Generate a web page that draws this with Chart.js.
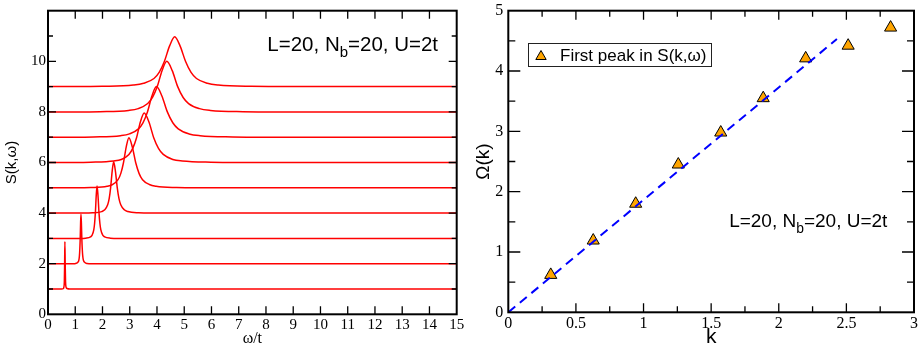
<!DOCTYPE html>
<html>
<head>
<meta charset="utf-8">
<title>S(k,w) spectra and first peak</title>
<script src="https://cdn.jsdelivr.net/npm/chart.js@4.4.1/dist/chart.umd.min.js"></script>
<style>
  body { margin: 0; background: #fff; }
  #wrap { position: relative; width: 922px; height: 345px; overflow: hidden; }
  canvas { position: absolute; top: 0; }
</style>
</head>
<body>
<div id="wrap">
  <canvas id="left" width="470" height="345" style="left:0px"></canvas>
  <canvas id="right" width="460" height="345" style="left:462px"></canvas>
</div>
<script>
// ---------- left panel: S(k,w) for each k, shifted up by 1 each ----------
// pairs of [w/t, S]
var curve1 = [[0,1],[0.5,1],[0.57,1.02],[0.58,1.06],[0.6,1.3],[0.61,1.94],[0.62,2.87],[0.632,1.94],[0.644,1.3],[0.668,1.06],[0.7,1.02],[0.8,1],[15,1]];
var curve2 = [[0,2],[1,2],[1.014,2.01],[1.098,2.06],[1.154,2.32],[1.182,2.98],[1.196,3.59],[1.21,3.95],[1.226,3.59],[1.242,2.98],[1.274,2.32],[1.338,2.06],[1.434,2.01],[1.6,2],[15,2]];
var curve3 = [[0,3],[1.2,3],[1.38,3.01],[1.56,3.06],[1.62,3.13],[1.68,3.34],[1.71,3.59],[1.74,4.04],[1.77,4.69],[1.8,5.07],[1.835,4.69],[1.87,4.04],[1.905,3.59],[1.94,3.34],[2.01,3.13],[2.08,3.06],[2.29,3.01],[2.6,3],[15,3]];
var curve4 = [[0,4],[1.3,4],[1.64,4.01],[1.97,4.06],[2.08,4.13],[2.19,4.33],[2.245,4.57],[2.3,5.02],[2.355,5.65],[2.41,6.03],[2.475,5.65],[2.54,5.02],[2.605,4.57],[2.67,4.33],[2.8,4.13],[2.93,4.06],[3.32,4.01],[3.8,4],[15,4]];
var curve5 = [[0,5],[1,5],[1.57,5.01],[2.17,5.06],[2.37,5.13],[2.57,5.32],[2.67,5.56],[2.77,5.99],[2.87,6.61],[2.97,6.98],[3.095,6.61],[3.22,5.99],[3.345,5.56],[3.47,5.32],[3.72,5.13],[3.97,5.06],[4.72,5.01],[5.5,5],[15,5]];
var curve6 = [[0,6],[1,6],[1.57,6.01],[2.41,6.06],[2.69,6.12],[2.97,6.32],[3.11,6.56],[3.25,6.98],[3.39,7.6],[3.53,7.96],[3.705,7.6],[3.88,6.98],[4.055,6.56],[4.23,6.32],[4.58,6.12],[4.93,6.06],[5.98,6.01],[7,6],[15,6]];
var curve7 = [[0,7],[1,7],[1.67,7.01],[2.66,7.06],[2.99,7.13],[3.32,7.33],[3.485,7.57],[3.65,8],[3.815,8.63],[3.98,9],[4.18,8.63],[4.38,8],[4.58,7.57],[4.78,7.33],[5.18,7.13],[5.58,7.06],[6.78,7.01],[8,7],[15,7]];
var curve8 = [[0,8],[1,8],[1.91,8.01],[2.96,8.06],[3.31,8.13],[3.66,8.33],[3.835,8.57],[4.01,9],[4.185,9.63],[4.36,10],[4.56,9.63],[4.76,9],[4.96,8.57],[5.16,8.33],[5.56,8.13],[5.96,8.06],[7.16,8.01],[8.5,8],[15,8]];
var curve9 = [[0,9],[1,9],[1.99,9.01],[3.13,9.06],[3.51,9.13],[3.89,9.32],[4.08,9.56],[4.27,9.99],[4.46,10.6],[4.65,10.97],[4.85,10.6],[5.05,9.99],[5.25,9.56],[5.45,9.32],[5.85,9.13],[6.25,9.06],[7.45,9.01],[9,9],[15,9]];
var leftCurves = [curve1, curve2, curve3, curve4, curve5, curve6, curve7, curve8, curve9];

// ---------- right panel: position of the first peak vs k ----------
var kValues = [0.314, 0.628, 0.942, 1.257, 1.571, 1.885, 2.199, 2.513, 2.827];
var peakValues = [0.62, 1.19, 1.8, 2.45, 2.98, 3.55, 4.21, 4.42, 4.72];
var fitK = [0, 2.43];
var fitOmega = [0, 4.53];

var serif = '"Liberation Serif", "Times New Roman", serif';
var sans = '"Liberation Sans", Arial, sans-serif';

// draws the frame, inward ticks, the parameter note and (right panel) the legend box
var decor = {
  id: 'decor',
  afterDatasetsDraw: function(chart, args, opts) {
    var ctx = chart.ctx, a = chart.chartArea;
    var xs = chart.scales.x, ys = chart.scales.y;
    ctx.save();
    ctx.strokeStyle = '#000';
    ctx.lineWidth = 1.3;
    ctx.beginPath();
    opts.ticks.forEach(function(t) {
      var s = t.axis === 'x' ? xs : ys;
      var n = Math.round((s.max - s.min) / t.step);
      for (var i = 1; i < n; i++) {
        var p = s.getPixelForValue(s.min + i * t.step);
        if (t.axis === 'x') {
          ctx.moveTo(p, a.bottom); ctx.lineTo(p, a.bottom - t.len);
          ctx.moveTo(p, a.top); ctx.lineTo(p, a.top + t.len);
        } else {
          ctx.moveTo(a.left, p); ctx.lineTo(a.left + t.len, p);
          ctx.moveTo(a.right, p); ctx.lineTo(a.right - t.len, p);
        }
      }
    });
    ctx.stroke();
    ctx.lineWidth = 2;
    ctx.strokeRect(a.left, a.top, a.right - a.left, a.bottom - a.top);

    // "L=20, N_b=20, U=2t"
    var size = opts.note.size;
    var x = xs.getPixelForValue(opts.note.x), y = ys.getPixelForValue(opts.note.y);
    ctx.fillStyle = '#000';
    ctx.textAlign = 'left';
    ctx.textBaseline = 'alphabetic';
    ctx.font = size + 'px ' + sans;
    ctx.fillText('L=20, N', x, y);
    x += ctx.measureText('L=20, N').width;
    ctx.font = (size * 0.73) + 'px ' + sans;
    ctx.fillText('b', x, y + size * 0.33);
    x += ctx.measureText('b').width;
    ctx.font = size + 'px ' + sans;
    ctx.fillText('=20, U=2t', x, y);

    if (opts.legend) {
      var lx = Math.round(xs.getPixelForValue(opts.legend.x));
      var ly = Math.round(ys.getPixelForValue(opts.legend.y));
      var label = chart.data.datasets[1].label;
      ctx.font = '17px ' + sans;
      var w = Math.round(31.7 + ctx.measureText(label).width + 5.3);
      ctx.lineWidth = 1;
      ctx.strokeStyle = '#222';
      ctx.strokeRect(lx + 0.5, ly + 0.5, w, 23);
      // small triangle marker
      var r = 6, cx = lx + 13, cy = ly + 13.5;
      ctx.beginPath();
      ctx.moveTo(cx, cy - r);
      ctx.lineTo(cx + 0.866 * r, cy + r / 2);
      ctx.lineTo(cx - 0.866 * r, cy + r / 2);
      ctx.closePath();
      ctx.fillStyle = '#ffa500';
      ctx.fill();
      ctx.strokeStyle = '#000';
      ctx.stroke();
      ctx.fillStyle = '#000';
      ctx.fillText(label, lx + 32, ly + 18);
    }
    ctx.restore();
  }
};

// helpers to pin the plot area where the reference has it
function fixHeight(h) {
  return function(s) { s.height = h; s.paddingLeft = 0; s.paddingRight = 0; };
}
function fixWidth(w) {
  return function(s) { s.width = w; s.paddingTop = 0; s.paddingBottom = 0; };
}

// left chart
var leftSets = leftCurves.map(function(c) {
  return {
    data: c.map(function(p) { return {x: p[0], y: p[1]}; }),
    borderColor: '#ff0000',
    borderWidth: 1.5,
    pointRadius: 0,
    cubicInterpolationMode: 'monotone',
    fill: false
  };
});

new Chart(document.getElementById('left'), {
  type: 'line',
  data: { datasets: leftSets },
  options: {
    responsive: false,
    animation: false,
    events: [],
    layout: { padding: { top: 10.7, right: 13.3, bottom: 0, left: 0 } },
    plugins: {
      legend: { display: false },
      tooltip: { enabled: false },
      decor: {
        ticks: [
          {axis: 'x', step: 1, len: 8},
          {axis: 'y', step: 1, len: 5},
          {axis: 'y', step: 2, len: 8}
        ],
        note: { x: 8.05, y: 10.42, size: 20.5 }
      }
    },
    scales: {
      x: {
        type: 'linear', min: 0, max: 15,
        grid: { display: false, drawTicks: false },
        border: { display: false },
        ticks: { stepSize: 1, padding: 2, color: '#000', font: { family: serif, size: 15 } },
        title: { display: true, text: 'ω/t', color: '#000', font: { family: serif, size: 16, lineHeight: 0.75 }, padding: { top: 0, bottom: 0 } },
        afterFit: fixHeight(30.7)
      },
      y: {
        type: 'linear', min: 0, max: 12,
        grid: { display: false, drawTicks: false },
        border: { display: false },
        ticks: {
          stepSize: 2, padding: 2, color: '#000', font: { family: serif, size: 15 },
          callback: function(v) { return v === 12 ? '' : v; }
        },
        title: { display: true, text: 'S(k,ω)', color: '#000', font: { family: sans, size: 15 }, padding: { top: 2.5, bottom: 0 } },
        afterFit: fixWidth(48)
      }
    }
  },
  plugins: [decor]
});

// right chart
new Chart(document.getElementById('right'), {
  type: 'scatter',
  data: {
    datasets: [
      {
        label: 'fit',
        type: 'line',
        order: 0,
        data: fitK.map(function(k, i) { return {x: k, y: fitOmega[i]}; }),
        borderColor: '#0000ff',
        borderWidth: 2,
        borderDash: [9, 6],
        pointRadius: 0,
        fill: false
      },
      {
        label: 'First peak in S(k,ω)',
        order: 1,
        data: kValues.map(function(k, i) { return {x: k, y: peakValues[i]}; }),
        pointStyle: 'triangle',
        pointRadius: 7,
        backgroundColor: '#ffa500',
        borderColor: '#000',
        borderWidth: 1
      }
    ]
  },
  options: {
    responsive: false,
    animation: false,
    events: [],
    layout: { padding: { top: 10.7, right: 1.5, bottom: 0, left: 0 } },
    plugins: {
      legend: { display: false },
      tooltip: { enabled: false },
      decor: {
        ticks: [
          {axis: 'x', step: 0.25, len: 6},
          {axis: 'x', step: 0.5, len: 9},
          {axis: 'y', step: 0.5, len: 7},
          {axis: 'y', step: 1, len: 12}
        ],
        note: { x: 1.633, y: 1.42, size: 19 },
        legend: { x: 0.146, y: 4.46 }
      }
    },
    scales: {
      x: {
        type: 'linear', min: 0, max: 3,
        grid: { display: false, drawTicks: false },
        border: { display: false },
        ticks: {
          stepSize: 0.5, padding: 1.5, color: '#000', font: { family: serif, size: 16 },
          callback: function(v) { return String(v); }
        },
        title: { display: true, text: 'k', color: '#000', font: { family: sans, size: 21, lineHeight: 0.75 }, padding: { top: 0, bottom: 0 } },
        afterFit: fixHeight(32.7)
      },
      y: {
        type: 'linear', min: 0, max: 5,
        grid: { display: false, drawTicks: false },
        border: { display: false },
        ticks: { stepSize: 1, padding: 5, color: '#000', font: { family: serif, size: 16 } },
        title: { display: true, text: 'Ω(k)', color: '#000', font: { family: sans, size: 19 }, padding: { top: 10.6, bottom: 0 } },
        afterFit: fixWidth(46.3)
      }
    }
  },
  plugins: [decor]
});
</script>
</body>
</html>
